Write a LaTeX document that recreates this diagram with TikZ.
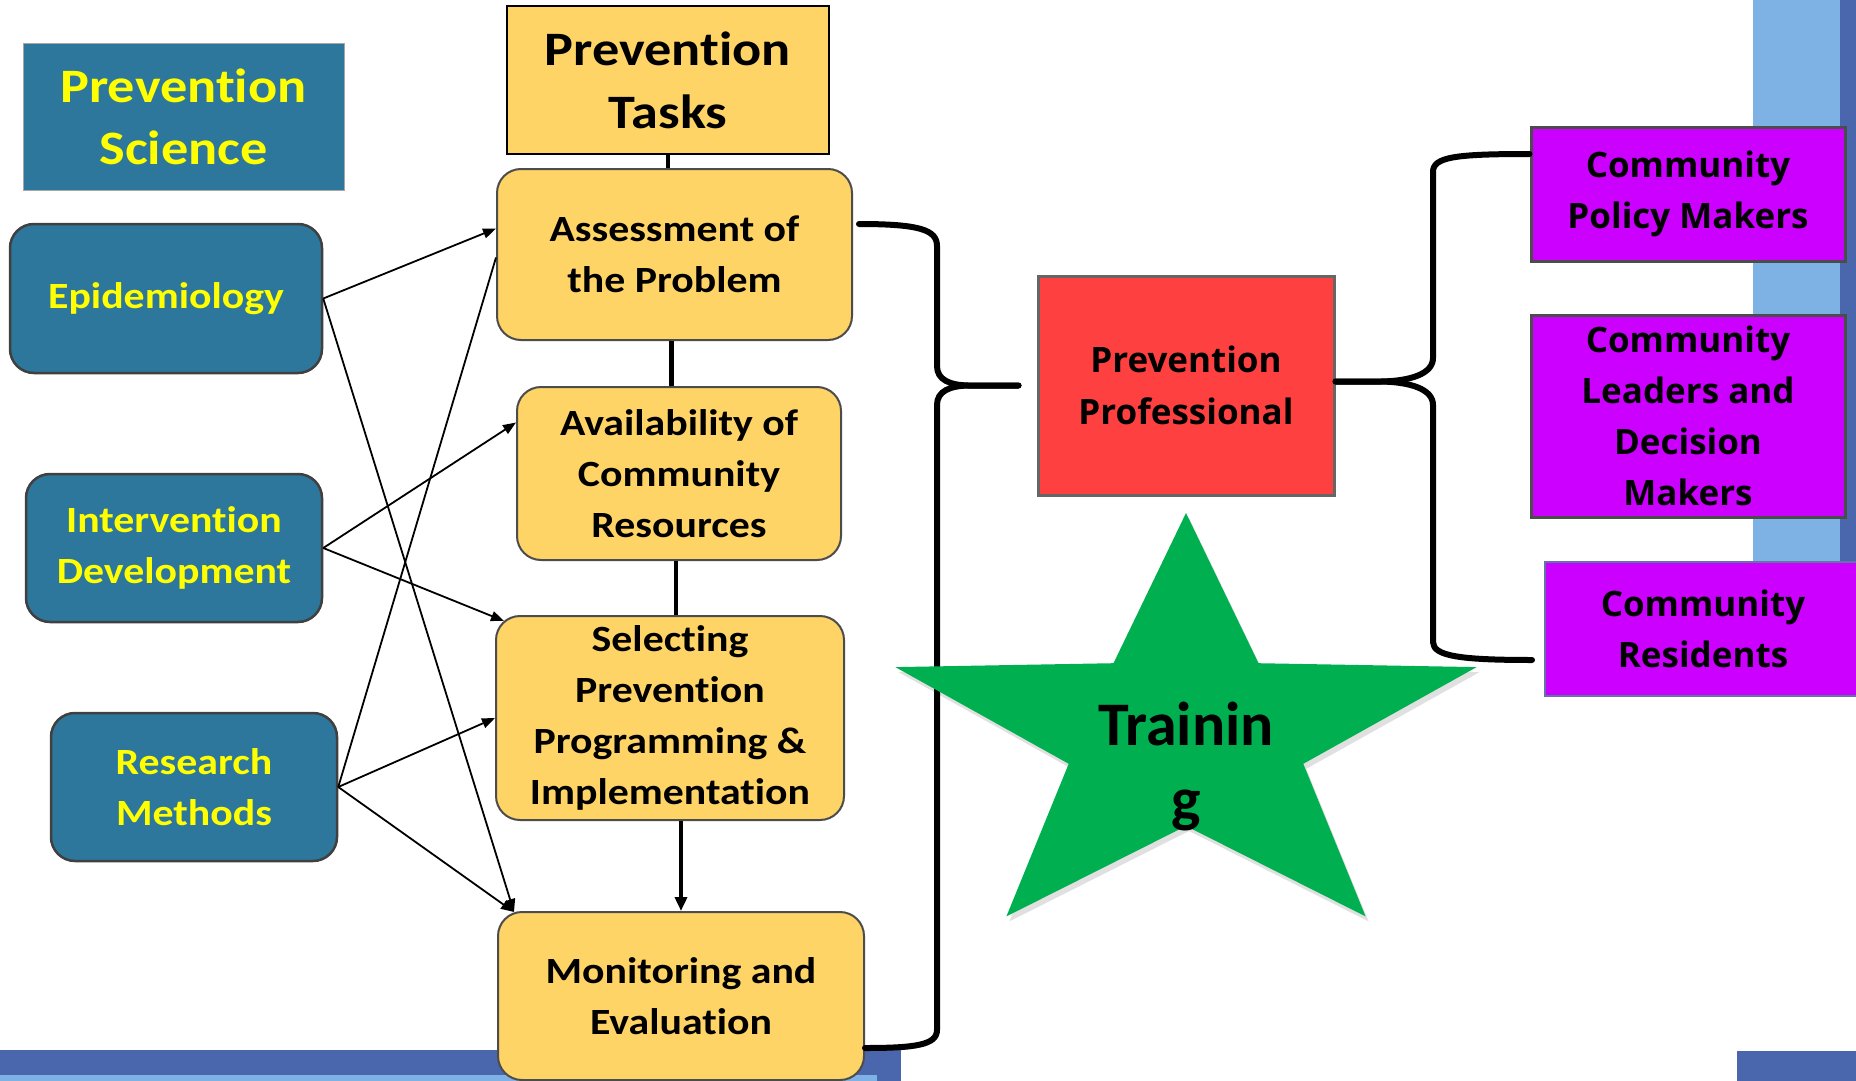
\documentclass[tikz,border=0pt]{standalone}
\usepackage{fontspec}
\usetikzlibrary{arrows.meta,calc}
\newfontfamily\calS{Carlito}[FakeStretch=1.13,Ligatures=NoCommon]
\newfontfamily\calN{Carlito}[Ligatures=NoCommon]
\newfontfamily\osans{Open Sans}
\definecolor{tealbox}{RGB}{45,119,156}
\definecolor{goldbox}{RGB}{255,212,102}
\definecolor{redbox}{RGB}{255,64,64}
\definecolor{purplebox}{RGB}{204,0,255}
\definecolor{stargreen}{RGB}{0,176,80}
\definecolor{lightstrip}{RGB}{127,178,228}
\definecolor{darkstrip}{RGB}{74,102,172}
\definecolor{txtyellow}{RGB}{255,255,0}
\definecolor{residborder}{RGB}{100,115,170}
\begin{document}
\begin{tikzpicture}[x=1pt,y=-1pt,
  box/.style={rectangle, inner sep=0pt, align=center},
  sciencebox/.style={box, fill=tealbox, draw=gray!70, line width=0.8pt, text=txtyellow,
    font=\calS\bfseries\fontsize{48}{62}\selectfont},
  taskhead/.style={box, fill=goldbox, draw=black, line width=2.5pt,
    font=\calS\bfseries\fontsize{48}{63}\selectfont},
  fieldbox/.style={box, rounded corners=24pt, fill=tealbox, draw=black!75, line width=2.5pt,
    text=txtyellow, font=\calS\bfseries\fontsize{37}{51}\selectfont},
  taskbox/.style={box, rounded corners=24pt, fill=goldbox, draw=black!70, line width=2pt,
    font=\calS\bfseries\fontsize{37}{51}\selectfont},
  profbox/.style={box, fill=redbox, draw=black!60, line width=3pt,
    font=\osans\bfseries\fontsize{35}{52}\selectfont},
  commbox/.style={box, fill=purplebox, draw=black!70, line width=3pt,
    font=\osans\bfseries\fontsize{35}{51}\selectfont},
  thinarrow/.style={line width=1.8pt, -{Triangle[length=13pt,width=10pt]}},
  thinline/.style={line width=1.8pt},
  tree/.style={line width=4.5pt},
  treearrow/.style={line width=4.5pt, -{Triangle[length=14pt,width=12pt]}},
  brace/.style={line width=6pt, line cap=round, line join=round},
  startext/.style={inner sep=0pt, align=center, font=\calN\bfseries\fontsize{62}{75}\selectfont},
]
\useasboundingbox (0,0) rectangle (1856,1081);
\clip (0,0) rectangle (1856,1081);
\fill[white] (0,0) rectangle (1856,1081);

% decorative strips
\fill[lightstrip] (1753,0) rectangle (1840,562);
\fill[darkstrip] (1840,0) rectangle (1856,562);
\fill[darkstrip] (0,1050) rectangle (901,1081);
\fill[lightstrip] (0,1075) rectangle (877,1081);
\fill[darkstrip] (1737,1051) rectangle (1856,1081);

% left column
\node[sciencebox, minimum width=321pt, minimum height=147pt] (sci) at (183.5,116.5) {Prevention\\Science};
\node[fieldbox, minimum width=312pt, minimum height=149pt] (epi) at (166,298.5) {Epidemiology};
\node[fieldbox, minimum width=296pt, minimum height=148pt] (intdev) at (174,548) {Intervention\\Development};
\node[fieldbox, minimum width=286pt, minimum height=148pt] (resm) at (194,787) {Research\\Methods};

% task column
\node[taskhead, minimum width=322pt, minimum height=148pt] (tasks) at (668,80) {Prevention\\Tasks};
\node[taskbox, minimum width=355pt, minimum height=171pt] (assess) at (674.5,254.5) {Assessment of\\the Problem};
\node[taskbox, minimum width=324pt, minimum height=173pt] (avail) at (679,473.5) {Availability of\\Community\\Resources};
\node[taskbox, minimum width=348pt, minimum height=204pt] (select) at (670,718) {Selecting\\Prevention\\Programming \&\\Implementation};
\node[taskbox, minimum width=366pt, minimum height=168pt] (monit) at (681,996) {Monitoring and\\Evaluation};

% professional and community
\node[profbox, minimum width=296pt, minimum height=219pt] (prof) at (1186,385.5) {Prevention\\Professional};
\node[commbox, minimum width=314pt, minimum height=134pt] (policy) at (1688,194) {Community\\Policy Makers};
\node[commbox, minimum width=314pt, minimum height=202pt] (leaders) at (1688,416) {Community\\Leaders and\\Decision\\Makers};
\node[commbox, draw=residborder, line width=2pt, minimum width=316pt, minimum height=134pt] (resid) at (1703,629) {Community\\Residents};

% tree connectors
\draw[tree] (tasks.south) -- (tasks.south |- assess.north);
\draw[tree] ([xshift=-3pt]assess.south) -- ([xshift=-3pt]assess.south |- avail.north);
\draw[tree] ([xshift=-3pt]avail.south) -- ([xshift=-3pt]avail.south |- select.north);
\draw[treearrow] (monit.north |- select.south) -- (monit.north);

% thin arrows from science fields
\draw[thinarrow] (epi.east) -- ([yshift=26pt]assess.west);
\draw[thinarrow] (epi.east) -- ([xshift=17pt,yshift=-1pt]monit.north west);
\draw[thinarrow] (intdev.east) -- ([yshift=51pt]avail.west);
\draw[thinarrow] (intdev.east) -- ([xshift=9pt,yshift=-6pt]select.north west);
\draw[thinline] (resm.east) -- ([yshift=-3pt]assess.west);
\draw[thinarrow] (resm.east) -- (select.west);
\draw[thinarrow] (resm.east) -- ([xshift=17pt,yshift=-1pt]monit.north west);

% left brace
\coordinate (lbtop) at ([xshift=6pt,yshift=30.5pt]assess.east);
\coordinate (lbbot) at ([yshift=-52pt]monit.east);
\coordinate (lbtip) at ([xshift=-18pt]prof.west);
\draw[brace] (lbtip) -- (968,385.5) .. controls (950,385) and (937,380) .. (937,366) -- (937,246)
  .. controls (937,230) and (920,224) .. (lbtop);
\draw[brace] (lbtip) -- (968,385.5) .. controls (950,386) and (937,391) .. (937,405) -- (937,1030)
  .. controls (937,1045) and (915,1048) .. (lbbot);

% right brace
\coordinate (rbtip) at ([yshift=4pt]prof.east);
\coordinate (rbtop) at ([yshift=40pt]policy.west);
\coordinate (rbbot) at ([xshift=-12pt,yshift=-31pt]resid.west);
\draw[brace] (rbtip) -- (1381,381.5) .. controls (1410,381) and (1433,374) .. (1433,358) -- (1433,172)
  .. controls (1433,157) and (1455,154) .. (rbtop);
\draw[brace] (rbtip) -- (1381,381.5) .. controls (1410,382) and (1433,389) .. (1433,405) -- (1433,642)
  .. controls (1433,656) and (1460,660) .. (rbbot);

% star
\fill[black, opacity=0.12] ($(1186,513)+(3,5)$) -- ($(1113.5,663.2)+(3,5)$) -- ($(895.4,667.1)+(3,5)$) -- ($(1068.7,763.8)+(3,5)$)
  -- ($(1006.4,916.4)+(3,5)$) -- ($(1186,826)+(3,5)$) -- ($(1365.6,916.4)+(3,5)$) -- ($(1303.3,763.8)+(3,5)$)
  -- ($(1476.6,667.1)+(3,5)$) -- ($(1258.5,663.2)+(3,5)$) -- cycle;
\fill[stargreen] (1186,513) -- (1113.5,663.2) -- (895.4,667.1) -- (1068.7,763.8) -- (1006.4,916.4)
  -- (1186,826) -- (1365.6,916.4) -- (1303.3,763.8) -- (1476.6,667.1) -- (1258.5,663.2) -- cycle;
\node[startext] (training) at (1186,766) {Trainin\\g};
\end{tikzpicture}
\end{document}
